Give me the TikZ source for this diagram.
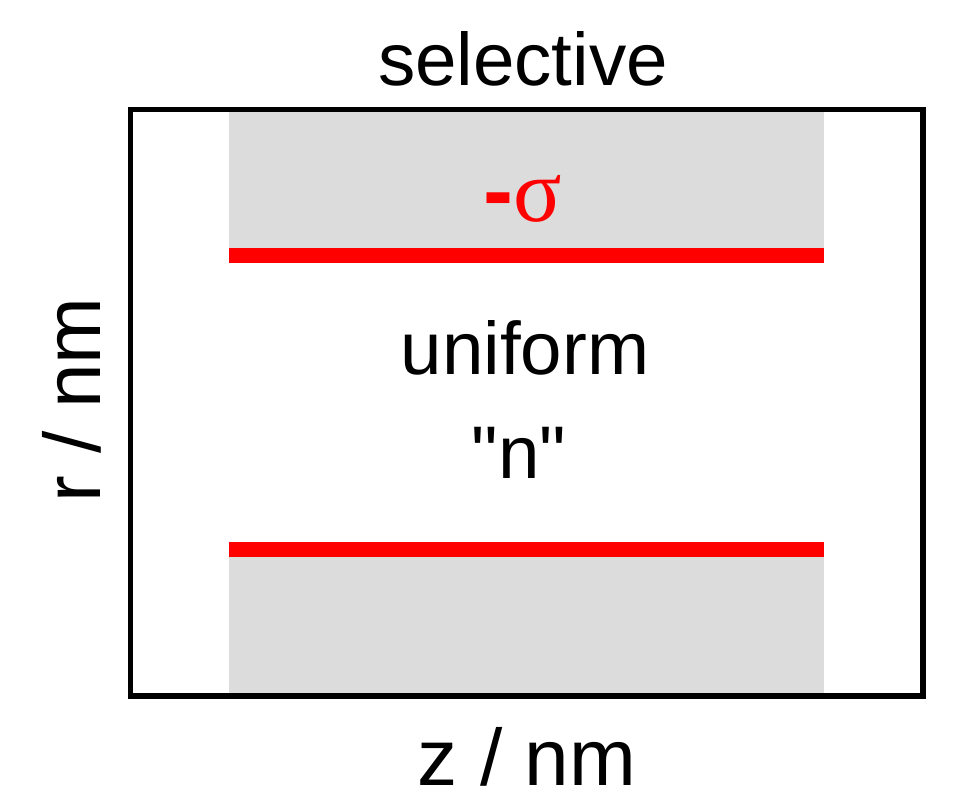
\documentclass[tikz,border=0pt]{standalone}
\usepackage{fontspec}
\setmainfont{Liberation Sans}[Ligatures=TeXOff]
\newfontfamily\sigmafont{Liberation Serif}

\begin{document}
\begin{tikzpicture}[x=0.025cm,y=-0.025cm,
  label text/.style={font=\fontsize{53}{60}\selectfont,inner sep=0pt,anchor=base},
  axis text/.style={font=\fontsize{57}{64}\selectfont,inner sep=0pt,anchor=base},
  wall/.style={fill={rgb,255:red,220;green,220;blue,220},draw=none},
  charge line/.style={red,line width=10.6pt}]
  \useasboundingbox (0,0) rectangle (967,800);

  % grey walls of the pore
  \fill[wall] (229,110) rectangle (824,255);
  \fill[wall] (229,549) rectangle (824,694);
  \draw[charge line] (229,255.5) coordinate (tl) -- (824,255.5) coordinate (tr);
  \draw[charge line] (229,549.5) coordinate (bl) -- (824,549.5) coordinate (br);

  % frame
  \draw[line width=4pt] (130.5,109.5) rectangle (923,696);

  \node[label text] (title) at (523,86) {selective};
  \node[label text,red,font=\fontsize{64}{70}\selectfont] (sigma) at (523,222) {\textbf{-}{\sigmafont σ}};
  \node[label text] (uniform) at (525,374) {uniform};
  \node[label text] (nval) at (519,478) {"n"};
  \node[axis text] (zlab) at (527,785) {z / nm};
  \node[axis text,rotate=90] (rlab) at (100,400) {r / nm};
\end{tikzpicture}
\end{document}
